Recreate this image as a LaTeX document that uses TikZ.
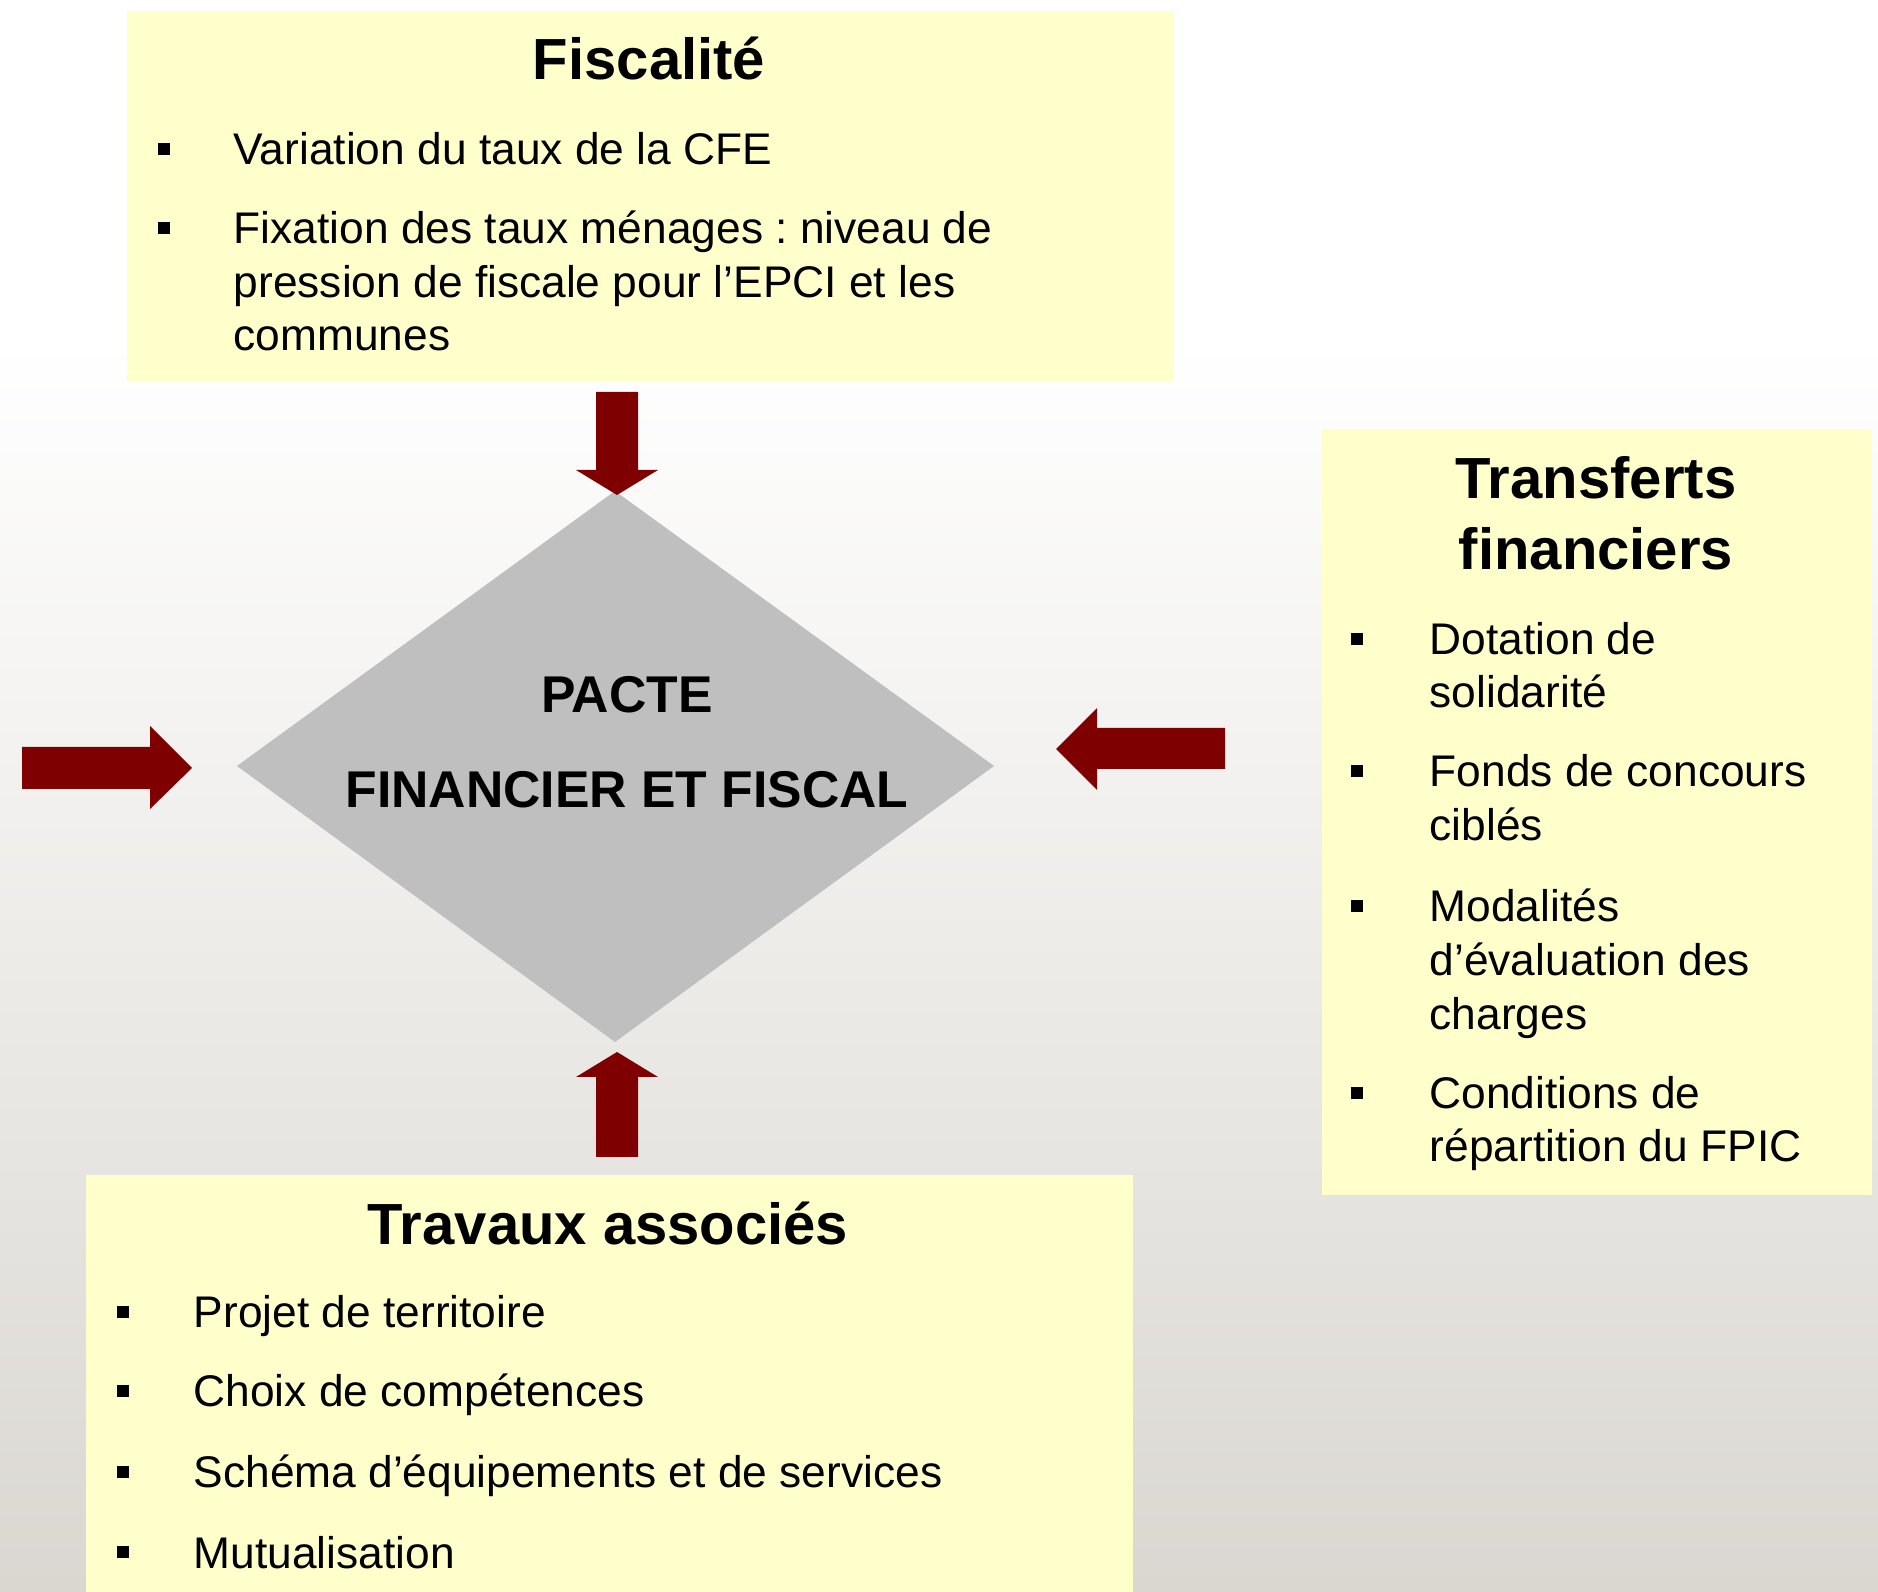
\documentclass[tikz,border=0pt]{standalone}
\usepackage{fontspec}
\setmainfont{Liberation Sans}
\frenchspacing
\definecolor{boxyellow}{RGB}{255,255,204}
\definecolor{diagray}{RGB}{191,191,191}
\definecolor{arrowred}{RGB}{127,0,0}
\definecolor{bgbot}{RGB}{218,215,209}
\tikzset{
  body/.style={font=\frenchspacing\fontsize{12.6}{15}\selectfont, anchor=base west, inner sep=0pt},
  ttl/.style={font=\bfseries\fontsize{16.5}{20}\selectfont, anchor=base, inner sep=0pt},
  pact/.style={font=\bfseries\fontsize{14.7}{17}\selectfont, anchor=base, inner sep=0pt},
  bul/.style={anchor=base west, inner sep=0pt},
  panel/.style={fill=boxyellow, draw=none, anchor=north west, inner sep=0pt},
  blockarrow/.style={fill=arrowred, draw=none}
}
\newcommand{\sqbul}{\rule[2.8pt]{3.4pt}{3.4pt}}
\begin{document}
\begin{tikzpicture}[x=0.01cm, y=-0.01cm]
\useasboundingbox (0,0) rectangle (1878,1592);
% background
\fill[white] (0,0) rectangle (1878,1592);
\shade[top color=white, bottom color=bgbot] (0,340) rectangle (1878,1592);

% panels
\node[panel, minimum width=10.47cm, minimum height=3.70cm] (fisc) at (126,10) {};
\node[panel, minimum width=5.50cm, minimum height=7.66cm] (trans) at (1321,428) {};
\node[panel, minimum width=10.47cm, minimum height=4.20cm] (trav) at (85,1174) {};

% diamond
\coordinate (dW) at (237,766);
\coordinate (dN) at (615,491);
\coordinate (dE) at (994,766);
\coordinate (dS) at (615,1042);
\fill[diagray] (dW) -- (dN) -- (dE) -- (dS) -- cycle;
\node[pact] (pacte1) at (627,713) {PACTE};
\node[pact] (pacte2) at (627,808) {FINANCIER ET FISCAL};

% block arrows
% top (down)
\fill[blockarrow] (596,392) -- (638,392) -- (638,470) -- (658,470) -- (617,495) -- (576,470) -- (596,470) -- cycle;
% bottom (up)
\fill[blockarrow] (596,1157) -- (638,1157) -- (638,1077) -- (658,1077) -- (617,1052) -- (576,1077) -- (596,1077) -- cycle;
% left (right-pointing)
\fill[blockarrow] (22,747) -- (150,747) -- (150,726) -- (192,768) -- (150,809) -- (150,789) -- (22,789) -- cycle;
% right (left-pointing)
\fill[blockarrow] (1225,728) -- (1097,728) -- (1097,708) -- (1056,749) -- (1097,790) -- (1097,769) -- (1225,769) -- cycle;

% Fiscalite
\node[ttl] (t1) at (649,80) {Fiscalité};
\node[bul] (b11) at (157,165) {\sqbul};
\node[body] (l11) at (233,165) {Variation du taux de la CFE};
\node[bul] (b12) at (157,244) {\sqbul};
\node[body] (l12) at (233,244) {Fixation des taux ménages : niveau de};
\node[body] (l13) at (233,298) {pression de fiscale pour l’EPCI et les};
\node[body] (l14) at (233,351) {communes};

% Transferts financiers
\node[ttl] (t2a) at (1596,499) {Transferts};
\node[ttl] (t2b) at (1596,570) {financiers};
\node[bul] (b21) at (1350,655) {\sqbul};
\node[body] (l21) at (1429,655) {Dotation de};
\node[body] (l22) at (1429,708) {solidarité};
\node[bul] (b22) at (1350,787) {\sqbul};
\node[body] (l23) at (1429,787) {Fonds de concours};
\node[body] (l24) at (1429,841) {ciblés};
\node[bul] (b23) at (1350,922) {\sqbul};
\node[body] (l25) at (1429,922) {Modalités};
\node[body] (l26) at (1429,976) {d’évaluation des};
\node[body] (l27) at (1429,1030) {charges};
\node[bul] (b24) at (1350,1109) {\sqbul};
\node[body] (l28) at (1429,1109) {Conditions de};
\node[body] (l29) at (1429,1162) {répartition du FPIC};

% Travaux associes
\node[ttl] (t3) at (608,1245) {Travaux associés};
\node[bul] (b31) at (116,1328) {\sqbul};
\node[body] (l31) at (193,1328) {Projet de territoire};
\node[bul] (b32) at (116,1407) {\sqbul};
\node[body] (l32) at (193,1407) {Choix de compétences};
\node[bul] (b33) at (116,1488) {\sqbul};
\node[body] (l33) at (193,1488) {Schéma d’équipements et de services};
\node[bul] (b34) at (116,1568) {\sqbul};
\node[body] (l34) at (193,1568) {Mutualisation};
\end{tikzpicture}
\end{document}
